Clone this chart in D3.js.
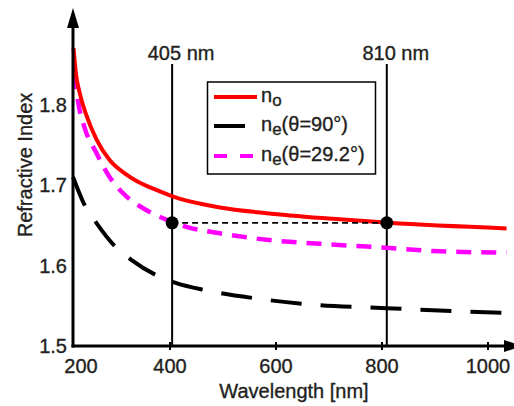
<!DOCTYPE html>
<html>
<head>
<meta charset="utf-8">
<script src="https://cdn.jsdelivr.net/npm/d3@7"></script>
<style>
  html, body { margin: 0; padding: 0; background: #fff; }
  svg { display: block; font-family: "Liberation Sans", Arial, sans-serif; }
  text { fill: #231f20; stroke: #231f20; stroke-width: 0.35px; }
</style>
</head>
<body>
<svg id="chart" width="514" height="406"></svg>
<script>
// ---- Data ----
const noWavelength = [219, 224, 230, 243, 262, 287, 319, 338, 375, 410, 463, 495, 583, 708, 814, 1036];
const noIndex      = [1.870, 1.836, 1.816, 1.787, 1.757, 1.731, 1.713, 1.705, 1.694, 1.685, 1.676, 1.672, 1.665, 1.658, 1.653, 1.646];

const ne90Wavelength = [218, 240, 262, 297, 328, 375, 413, 470, 564, 658, 809, 1036];
const ne90Index      = [1.710, 1.675, 1.653, 1.624, 1.607, 1.588, 1.578, 1.569, 1.559, 1.552, 1.547, 1.541];

const ne292Wavelength = [221, 227, 240, 262, 287, 312, 356, 394, 432, 495, 583, 684, 809, 897, 1036];
const ne292Index      = [1.838, 1.806, 1.771, 1.740, 1.710, 1.690, 1.669, 1.657, 1.648, 1.640, 1.632, 1.627, 1.622, 1.618, 1.616];

const markerWavelengths = [405, 810];
const markerLabels = ["405 nm", "810 nm"];
const matchIndex = 1.653;

const xTicks = [400, 600, 800, 1000];
const xOriginLabel = "200";
const yTicks = [1.5, 1.6, 1.7, 1.8];
const xTitle = "Wavelength [nm]";
const yTitle = "Refractive Index";

// ---- Layout ----
const svg = d3.select("#chart");
const x = d3.scaleLinear().domain([218, 1050]).range([73, 514]);
const y = d3.scaleLinear().domain([1.5, 1.8]).range([346, 104.5]);
const ink = "#231f20";
const axisY0 = 346, axisX0 = 73;

const line = d3.line().x(d => x(d[0])).y(d => y(d[1])).curve(d3.curveMonotoneX);
const zip = (a, b) => a.map((v, i) => [v, b[i]]);

// marker vertical lines
markerWavelengths.forEach((w, i) => {
  svg.append("line")
    .attr("x1", x(w)).attr("x2", x(w))
    .attr("y1", 64).attr("y2", axisY0)
    .attr("stroke", "#000").attr("stroke-width", 2);
  svg.append("text")
    .attr("x", x(w) + 9).attr("y", 60)
    .attr("text-anchor", "middle")
    .attr("font-size", 20)
    .text(markerLabels[i]);
});

// curves
svg.append("path").datum(zip(ne90Wavelength, ne90Index))
  .attr("d", line).attr("fill", "none")
  .attr("stroke", "#000").attr("stroke-width", 4)
  .attr("stroke-dasharray", "31,19");

svg.append("path").datum(zip(ne292Wavelength, ne292Index))
  .attr("d", line).attr("fill", "none")
  .attr("stroke", "#ff00ff").attr("stroke-width", 4.5)
  .attr("stroke-dasharray", "15,10");

svg.append("path").datum(zip(noWavelength, noIndex))
  .attr("d", line).attr("fill", "none")
  .attr("stroke", "#ff0000").attr("stroke-width", 4);

// phase-matching dashed connector and dots
svg.append("line")
  .attr("x1", x(markerWavelengths[0])).attr("x2", x(markerWavelengths[1]))
  .attr("y1", y(matchIndex)).attr("y2", y(matchIndex))
  .attr("stroke", "#000").attr("stroke-width", 1.8)
  .attr("stroke-dasharray", "6,4");

svg.selectAll("circle.dot").data(markerWavelengths).enter()
  .append("circle").attr("class", "dot")
  .attr("cx", d => x(d)).attr("cy", y(matchIndex))
  .attr("r", 6.5).attr("fill", "#000");

// axes lines with arrows
svg.append("line").attr("x1", axisX0).attr("x2", axisX0)
  .attr("y1", axisY0 + 1.5).attr("y2", 26)
  .attr("stroke", "#000").attr("stroke-width", 3);
svg.append("path")
  .attr("d", `M${axisX0},8 L${axisX0 - 6},28 L${axisX0 + 6},28 Z`)
  .attr("fill", "#000");

svg.append("line").attr("x1", axisX0 - 1.5).attr("x2", 506)
  .attr("y1", axisY0).attr("y2", axisY0)
  .attr("stroke", "#000").attr("stroke-width", 3);
svg.append("path")
  .attr("d", `M523,${axisY0} L504,${axisY0 - 6} L504,${axisY0 + 6} Z`)
  .attr("fill", "#000");

// x axis ticks / labels
const xAxis = d3.axisBottom(x).tickValues(xTicks).tickSize(4).tickFormat(d3.format("d"));
const gx = svg.append("g").attr("transform", `translate(0,${axisY0})`).call(xAxis);
gx.select(".domain").remove();
gx.selectAll(".tick line").attr("y1", -4).attr("y2", 4).attr("stroke", "#000").attr("stroke-width", 2);
gx.selectAll(".tick text").attr("y", 27).attr("dy", 0)
  .attr("font-size", 20).attr("font-family", null).attr("fill", ink);

svg.append("text").attr("x", axisX0 + 8).attr("y", axisY0 + 27)
  .attr("text-anchor", "middle").attr("font-size", 20).text(xOriginLabel);

// y axis labels
const yAxis = d3.axisLeft(y).tickValues(yTicks).tickSize(0).tickFormat(d3.format(".1f"));
const gy = svg.append("g").attr("transform", `translate(${axisX0 - 6},0)`).call(yAxis);
gy.select(".domain").remove();
gy.selectAll(".tick text").attr("x", 0).attr("dy", 6.5)
  .attr("font-size", 20).attr("font-family", null).attr("fill", ink);

// axis titles
svg.append("text").attr("x", 294).attr("y", 398)
  .attr("text-anchor", "middle").attr("font-size", 20).text(xTitle);
svg.append("text")
  .attr("transform", "translate(32,165) rotate(-90)")
  .attr("text-anchor", "middle").attr("font-size", 20).text(yTitle);

// legend
const lg = svg.append("g");
lg.append("rect").attr("x", 207.5).attr("y", 82).attr("width", 168).attr("height", 92)
  .attr("fill", "#fff").attr("stroke", "#000").attr("stroke-width", 1.5);
const legendItems = [
  { color: "#ff0000", dash: null, x2: 257, sub: "o", rest: "", y: 97 },
  { color: "#000", dash: "31,19", x2: 248, sub: "e", rest: "(θ=90°)", y: 126 },
  { color: "#ff00ff", dash: "13,13", x2: 253, sub: "e", rest: "(θ=29.2°)", y: 156 }
];
legendItems.forEach(it => {
  lg.append("line").attr("x1", 214).attr("x2", it.x2)
    .attr("y1", it.y).attr("y2", it.y)
    .attr("stroke", it.color).attr("stroke-width", 4)
    .attr("stroke-dasharray", it.dash);
  const t = lg.append("text").attr("x", 261).attr("y", it.y + 5).attr("font-size", 20);
  t.append("tspan").text("n");
  t.append("tspan").attr("dy", 4).attr("font-size", 17).text(it.sub);
  if (it.rest) t.append("tspan").attr("dy", -4).attr("font-size", 20).text(it.rest);
});
</script>
</body>
</html>
